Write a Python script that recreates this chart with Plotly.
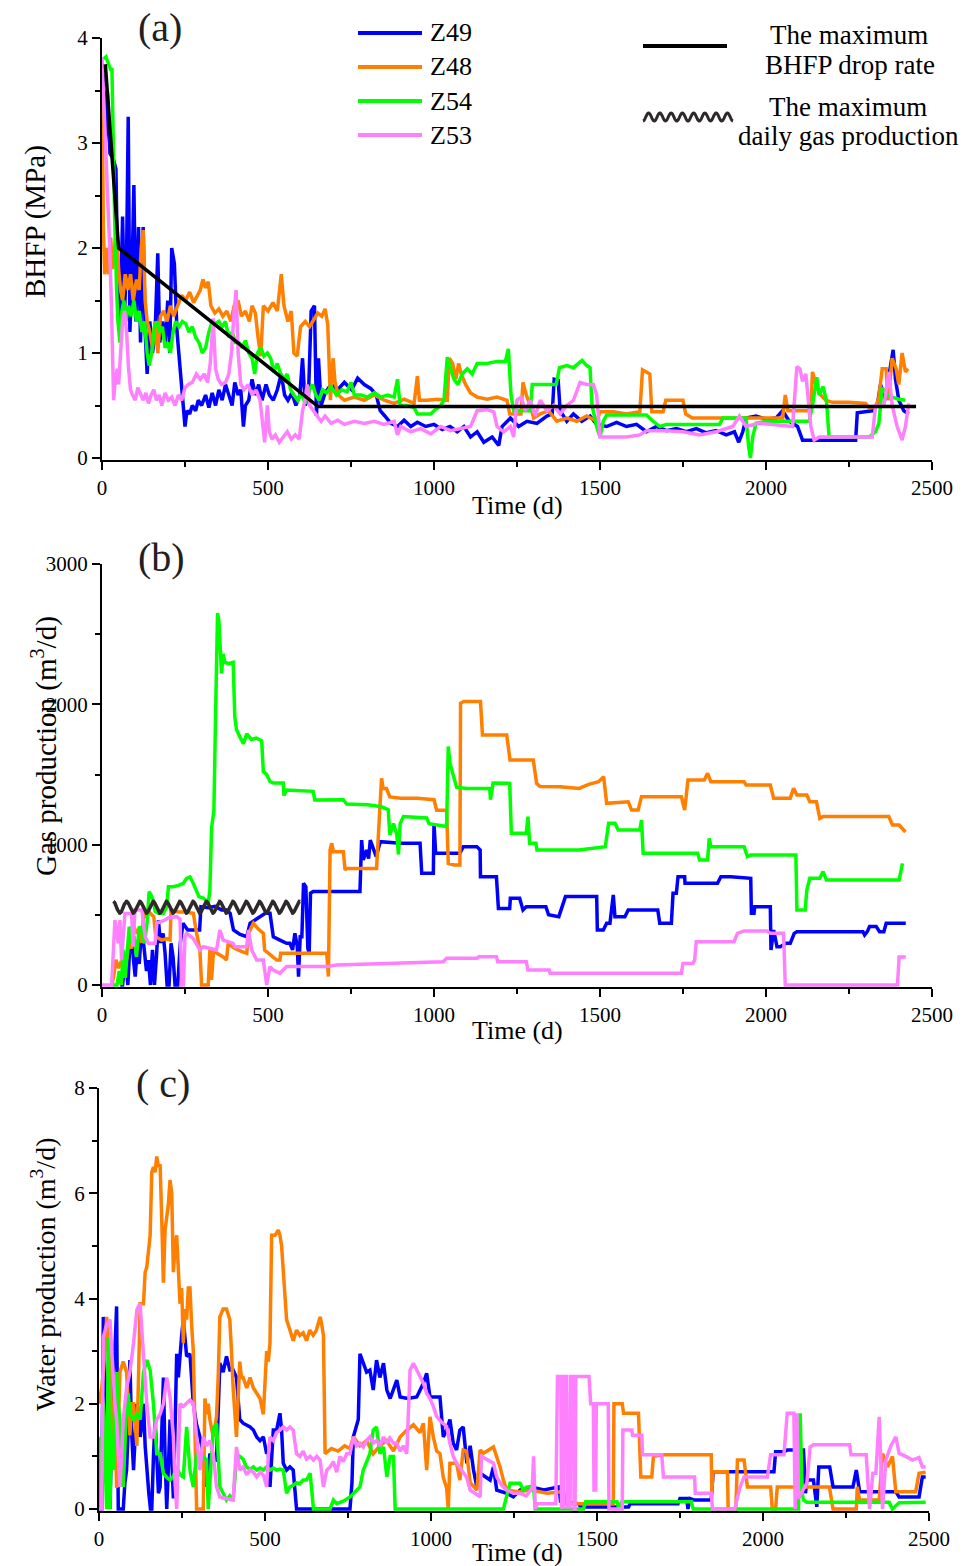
import numpy as np
import plotly.graph_objects as go

W, H = 975, 1566
FONT = "Liberation Serif"

WELLS = ["Z49", "Z48", "Z54", "Z53"]
COLORS = {"Z49": "#0000FF", "Z48": "#FF7F00", "Z54": "#00FF00", "Z53": "#FF80FF"}

# ---------------- (a) bottom-hole flowing pressure, MPa (day, value) ----------------
Z49_BHFP = [
    (3, 3.65), (10, 3.0), (16, 3.5), (24, 2.9), (34, 2.85), (42, 2.75), (48, 1.6), (55, 1.3), (62, 2.3),
    (68, 1.4), (74, 1.9), (79, 3.25), (84, 1.2), (90, 1.7), (96, 2.6), (102, 1.3), (110, 2.2), (116, 1.1),
    (124, 2.2), (130, 1.2), (136, 0.8), (144, 1.3), (152, 1.0), (160, 1.2), (168, 1.95), (174, 1.1),
    (182, 1.3), (190, 1.1), (198, 1.5), (204, 1.0), (210, 2.0), (218, 1.85), (226, 1.2), (234, 0.9),
    (242, 0.6), (250, 0.3), (256, 0.45), (264, 0.42), (272, 0.5), (282, 0.45), (290, 0.55), (300, 0.5),
    (312, 0.6), (322, 0.48), (332, 0.62), (342, 0.5), (352, 0.65), (362, 0.55), (372, 0.7), (382, 0.6),
    (392, 0.5), (400, 0.72), (410, 0.6), (418, 0.65), (426, 0.3), (432, 0.5), (442, 0.55), (452, 0.75),
    (462, 0.6), (472, 0.7), (482, 0.55), (494, 0.7), (504, 0.6), (516, 0.55), (528, 0.65), (540, 0.8),
    (550, 0.6), (560, 0.55), (572, 0.62), (584, 0.5), (596, 0.6), (604, 0.95), (612, 0.5), (622, 0.6),
    (630, 1.4), (640, 1.45), (646, 0.4), (652, 0.95), (660, 0.5), (672, 0.62), (690, 0.7), (710, 0.65),
    (730, 0.72), (752, 0.65), (770, 0.76), (790, 0.7), (810, 0.66), (826, 0.6), (838, 0.45), (852, 0.4),
    (870, 0.33), (890, 0.3), (910, 0.36), (930, 0.3), (950, 0.34), (975, 0.3), (1000, 0.32), (1025, 0.27),
    (1048, 0.3), (1070, 0.25), (1090, 0.3), (1110, 0.2), (1130, 0.25), (1150, 0.15), (1175, 0.2),
    (1195, 0.12), (1205, 0.3), (1230, 0.38), (1255, 0.3), (1280, 0.35), (1310, 0.33), (1340, 0.4),
    (1356, 0.42), (1362, 0.75), (1374, 0.74), (1380, 0.45), (1400, 0.35), (1420, 0.42), (1445, 0.35),
    (1470, 0.4), (1490, 0.32), (1520, 0.3), (1550, 0.34), (1580, 0.3), (1610, 0.32), (1640, 0.25),
    (1670, 0.3), (1700, 0.26), (1730, 0.28), (1760, 0.25), (1790, 0.28), (1820, 0.24), (1850, 0.26),
    (1880, 0.22), (1905, 0.25), (1918, 0.15), (1930, 0.25), (1940, 0.38), (1970, 0.4), (2000, 0.37),
    (2030, 0.38), (2050, 0.45), (2070, 0.35), (2095, 0.3), (2110, 0.17), (2180, 0.17), (2270, 0.17),
    (2275, 0.43), (2320, 0.45), (2335, 0.5), (2345, 0.7), (2358, 0.55), (2372, 0.8), (2383, 1.03),
    (2390, 0.75), (2400, 0.55), (2415, 0.45), (2430, 0.42),
]
Z48_BHFP = [
    (0, 3.6), (4, 2.2), (8, 1.75), (14, 2.0), (20, 1.75), (26, 2.1), (32, 1.8), (38, 2.05), (44, 2.2),
    (50, 1.8), (56, 1.6), (62, 1.5), (70, 1.75), (78, 1.6), (86, 1.75), (94, 1.5), (104, 1.7), (112, 1.6),
    (118, 2.0), (124, 2.17), (130, 1.5), (136, 1.3), (144, 1.2), (152, 1.05), (160, 1.3), (168, 1.0),
    (176, 1.35), (186, 1.4), (196, 1.3), (206, 1.45), (216, 1.35), (228, 1.45), (240, 1.55), (252, 1.5),
    (264, 1.58), (276, 1.48), (288, 1.55), (296, 1.6), (304, 1.7), (312, 1.62), (320, 1.68), (328, 1.45),
    (340, 1.38), (352, 1.42), (364, 1.35), (376, 1.4), (388, 1.3), (398, 1.45), (410, 1.5), (420, 1.35),
    (432, 1.4), (444, 1.3), (452, 1.45), (462, 1.38), (470, 1.15), (478, 0.97), (486, 1.45), (500, 1.4),
    (515, 1.48), (528, 1.4), (540, 1.75), (548, 1.45), (560, 1.3), (570, 1.4), (578, 1.0), (588, 0.97),
    (598, 1.25), (612, 1.3), (625, 1.25), (638, 1.32), (650, 1.38), (662, 1.35), (672, 1.42), (680, 1.27),
    (688, 0.55), (696, 0.95), (702, 0.72), (712, 0.6), (730, 0.55), (760, 0.58), (790, 0.55), (820, 0.6),
    (850, 0.55), (880, 0.52), (910, 0.56), (940, 0.52), (950, 0.78), (956, 0.55), (980, 0.55),
    (1010, 0.56), (1040, 0.55), (1046, 0.95), (1056, 0.9), (1066, 0.75), (1074, 0.9), (1082, 0.8),
    (1095, 0.7), (1110, 0.62), (1130, 0.58), (1160, 0.56), (1190, 0.58), (1220, 0.55), (1228, 0.42),
    (1262, 0.42), (1268, 0.72), (1278, 0.6), (1290, 0.5), (1300, 0.38), (1320, 0.42), (1345, 0.45),
    (1370, 0.35), (1400, 0.38), (1430, 0.35), (1460, 0.4), (1490, 0.35), (1500, 0.44), (1540, 0.44),
    (1580, 0.42), (1620, 0.44), (1628, 0.84), (1650, 0.8), (1656, 0.44), (1690, 0.44), (1698, 0.55),
    (1750, 0.55), (1758, 0.42), (1778, 0.38), (1850, 0.38), (1950, 0.38), (2050, 0.38), (2058, 0.6),
    (2066, 0.45), (2100, 0.45), (2135, 0.45), (2140, 0.82), (2150, 0.7), (2165, 0.6), (2180, 0.55),
    (2200, 0.53), (2250, 0.53), (2300, 0.52), (2310, 0.48), (2330, 0.48), (2340, 0.58), (2350, 0.85),
    (2362, 0.85), (2368, 0.55), (2380, 0.95), (2392, 0.85), (2400, 0.7), (2410, 1.0), (2420, 0.82),
    (2428, 0.85),
]
Z54_BHFP = [
    (5, 3.8), (12, 3.82), (20, 3.75), (26, 3.7), (30, 3.7), (34, 2.8), (38, 2.3), (44, 1.6), (48, 1.3),
    (54, 1.1), (60, 1.4), (66, 1.5), (72, 1.3), (80, 1.45), (88, 1.35), (96, 1.5), (104, 1.3), (112, 1.4),
    (120, 1.2), (128, 1.3), (136, 1.0), (142, 0.88), (150, 1.0), (158, 1.25), (166, 1.3), (174, 1.2),
    (182, 1.25), (190, 1.05), (198, 1.1), (206, 1.0), (214, 1.2), (222, 1.3), (232, 1.25), (242, 1.3),
    (252, 1.28), (262, 1.2), (272, 1.25), (282, 1.15), (292, 1.1), (302, 1.0), (312, 1.05), (322, 1.2),
    (332, 1.3), (342, 1.28), (352, 1.3), (362, 1.25), (372, 1.3), (382, 1.15), (392, 1.2), (402, 1.1),
    (412, 1.1), (422, 1.05), (432, 1.12), (442, 1.0), (452, 0.95), (460, 0.8), (468, 1.0), (478, 1.05),
    (488, 0.97), (498, 1.0), (508, 0.95), (518, 0.82), (528, 0.9), (538, 0.8), (548, 0.75), (558, 0.8),
    (568, 0.65), (578, 0.6), (590, 0.55), (600, 0.62), (612, 0.52), (624, 0.65), (634, 0.7), (644, 0.6),
    (654, 0.55), (664, 0.65), (676, 0.62), (690, 0.68), (706, 0.6), (722, 0.65), (738, 0.63), (750, 0.72),
    (760, 0.6), (780, 0.6), (800, 0.58), (820, 0.62), (840, 0.58), (860, 0.6), (880, 0.58), (890, 0.75),
    (898, 0.5), (920, 0.5), (940, 0.48), (950, 0.42), (970, 0.42), (990, 0.42), (1000, 0.45), (1020, 0.5),
    (1030, 0.55), (1040, 0.96), (1050, 0.85), (1060, 0.75), (1072, 0.7), (1085, 0.8), (1100, 0.85),
    (1115, 0.8), (1130, 0.9), (1160, 0.9), (1190, 0.92), (1215, 0.92), (1224, 1.04), (1232, 0.6),
    (1240, 0.45), (1270, 0.45), (1290, 0.45), (1296, 0.7), (1330, 0.7), (1368, 0.7), (1378, 0.86),
    (1400, 0.88), (1420, 0.86), (1446, 0.93), (1460, 0.88), (1470, 0.86), (1476, 0.5), (1490, 0.3),
    (1500, 0.2), (1510, 0.35), (1520, 0.41), (1580, 0.41), (1640, 0.41), (1660, 0.35), (1680, 0.3),
    (1700, 0.32), (1760, 0.32), (1860, 0.32), (1870, 0.38), (1940, 0.38), (1948, 0.1), (1953, 0.0),
    (1960, 0.2), (1970, 0.33), (2000, 0.35), (2060, 0.35), (2130, 0.35), (2140, 0.5), (2153, 0.77),
    (2160, 0.6), (2172, 0.68), (2182, 0.55), (2190, 0.2), (2250, 0.2), (2310, 0.2), (2330, 0.25),
    (2340, 0.33), (2350, 0.67), (2365, 0.6), (2380, 0.58), (2400, 0.56), (2420, 0.55),
]
Z53_BHFP = [
    (0, 3.82), (6, 3.4), (10, 3.1), (16, 2.6), (22, 2.1), (28, 1.5), (32, 0.9), (35, 0.55), (40, 0.75),
    (46, 0.85), (50, 0.7), (55, 1.0), (62, 1.3), (68, 1.4), (74, 1.2), (80, 0.85), (86, 0.65), (92, 0.6),
    (100, 0.55), (108, 0.67), (116, 0.6), (124, 0.55), (132, 0.62), (140, 0.52), (148, 0.6), (156, 0.65),
    (164, 0.55), (172, 0.6), (180, 0.5), (190, 0.62), (200, 0.55), (210, 0.58), (220, 0.5), (230, 0.6),
    (240, 0.55), (250, 0.67), (260, 0.7), (272, 0.72), (284, 0.8), (296, 0.75), (308, 0.8), (318, 0.72),
    (326, 0.9), (335, 1.33), (342, 0.85), (350, 0.75), (360, 0.7), (372, 0.72), (382, 0.8), (390, 1.0),
    (398, 1.4), (404, 1.6), (410, 1.0), (418, 0.7), (428, 0.65), (440, 0.7), (452, 0.6), (464, 0.65),
    (476, 0.55), (484, 0.3), (490, 0.15), (498, 0.5), (504, 0.25), (512, 0.18), (522, 0.22), (534, 0.15),
    (546, 0.2), (558, 0.25), (570, 0.18), (582, 0.22), (594, 0.18), (604, 0.45), (612, 0.56), (618, 0.7),
    (626, 0.5), (636, 0.45), (648, 0.4), (660, 0.35), (672, 0.4), (690, 0.33), (710, 0.36), (730, 0.32),
    (760, 0.35), (790, 0.33), (820, 0.35), (850, 0.32), (880, 0.35), (890, 0.22), (900, 0.3), (930, 0.25),
    (960, 0.28), (990, 0.23), (1020, 0.3), (1050, 0.26), (1080, 0.28), (1110, 0.3), (1130, 0.45),
    (1160, 0.46), (1180, 0.44), (1190, 0.3), (1210, 0.25), (1230, 0.3), (1240, 0.2), (1250, 0.55),
    (1262, 0.58), (1275, 0.45), (1290, 0.55), (1305, 0.4), (1320, 0.55), (1340, 0.45), (1360, 0.5),
    (1380, 0.42), (1400, 0.5), (1420, 0.55), (1440, 0.72), (1460, 0.7), (1480, 0.7), (1490, 0.6),
    (1500, 0.2), (1520, 0.2), (1580, 0.2), (1620, 0.22), (1640, 0.26), (1700, 0.26), (1750, 0.25),
    (1800, 0.22), (1850, 0.25), (1900, 0.3), (1920, 0.4), (1940, 0.3), (1980, 0.33), (2020, 0.32),
    (2080, 0.3), (2093, 0.87), (2102, 0.85), (2110, 0.73), (2120, 0.8), (2135, 0.3), (2145, 0.17),
    (2160, 0.2), (2240, 0.2), (2320, 0.2), (2330, 0.5), (2355, 0.5), (2370, 0.82), (2380, 0.5),
    (2395, 0.3), (2410, 0.17), (2420, 0.3), (2430, 0.52),
]
# maximum BHFP drop-rate envelope (day, MPa)
BHFP_DROP_LIMIT = [(10, 3.75), (50, 2.0), (651, 0.49), (2452, 0.49)]

# ---------------- (b) gas production, m3/d (day, value) ----------------
Z49_GAS = [
    (55, 0), (62, 0), (70, 200), (78, 0), (84, 300), (88, 415), (94, 200), (100, 60), (106, 250),
    (112, 150), (120, 415), (126, 300), (134, 100), (140, 178), (146, 0), (152, 250), (158, 0), (164, 200),
    (170, 460), (176, 300), (184, 368), (190, 225), (196, 0), (202, 0), (208, 297), (214, 200), (220, 0),
    (228, 0), (236, 300), (244, 440), (252, 415), (258, 392), (294, 392), (298, 558), (320, 550),
    (340, 560), (360, 535), (376, 535), (386, 511), (396, 392), (416, 360), (436, 344), (446, 440),
    (466, 470), (480, 487), (492, 511), (506, 511), (516, 344), (536, 320), (556, 297), (566, 297),
    (574, 250), (581, 368), (588, 280), (592, 60), (597, 344), (602, 344), (607, 725), (614, 700),
    (620, 260), (624, 226), (628, 654), (636, 666), (777, 666), (782, 1033), (787, 891), (797, 962),
    (803, 900), (808, 1033), (818, 960), (826, 915), (838, 1021), (900, 1010), (958, 1010), (963, 796),
    (998, 796), (1000, 1152), (1005, 938), (1078, 938), (1088, 986), (1129, 986), (1139, 962),
    (1140, 772), (1188, 772), (1194, 546), (1228, 546), (1230, 618), (1258, 618), (1268, 535),
    (1278, 558), (1337, 558), (1345, 500), (1376, 487), (1396, 630), (1490, 630), (1492, 392),
    (1510, 392), (1520, 440), (1530, 440), (1540, 642), (1545, 487), (1575, 487), (1585, 535),
    (1674, 535), (1680, 440), (1715, 440), (1720, 653), (1730, 653), (1735, 772), (1755, 772),
    (1756, 725), (1854, 725), (1864, 772), (1894, 772), (1954, 760), (1956, 511), (1964, 511),
    (1966, 558), (2013, 558), (2015, 249), (2023, 392), (2033, 273), (2043, 273), (2060, 297),
    (2073, 297), (2085, 368), (2093, 380), (2292, 380), (2297, 356), (2305, 380), (2312, 416),
    (2332, 416), (2342, 380), (2355, 380), (2362, 440), (2421, 440),
]
Z48_GAS = [
    (30, 0), (35, 60), (42, 180), (50, 120), (58, 170), (66, 140), (74, 180), (80, 297), (88, 260),
    (96, 415), (104, 368), (112, 400), (120, 300), (126, 535), (134, 480), (142, 520), (150, 500),
    (156, 487), (162, 344), (180, 320), (196, 330), (205, 320), (208, 535), (230, 520), (250, 520),
    (275, 511), (285, 368), (295, 249), (300, 0), (320, 0), (325, 249), (330, 36), (336, 249), (350, 220),
    (365, 200), (375, 178), (380, 297), (400, 260), (420, 240), (436, 226), (441, 368), (456, 440),
    (470, 400), (486, 368), (490, 249), (505, 220), (516, 202), (526, 178), (536, 178), (538, 226),
    (677, 226), (682, 60), (687, 962), (692, 1010), (697, 950), (727, 950), (732, 820), (737, 830),
    (827, 830), (842, 1473), (847, 1400), (857, 1400), (867, 1340), (900, 1330), (950, 1330),
    (1000, 1320), (1008, 1245), (1038, 1245), (1043, 867), (1060, 855), (1078, 855), (1080, 2008),
    (1090, 2020), (1140, 2020), (1146, 1782), (1219, 1782), (1229, 1604), (1299, 1604), (1309, 1437),
    (1319, 1414), (1380, 1413), (1437, 1401), (1466, 1430), (1496, 1449), (1511, 1485), (1520, 1295),
    (1585, 1306), (1595, 1247), (1615, 1247), (1625, 1342), (1745, 1342), (1755, 1247), (1765, 1461),
    (1814, 1461), (1824, 1508), (1834, 1449), (1934, 1449), (1940, 1425), (2013, 1425), (2023, 1330),
    (2073, 1330), (2083, 1401), (2093, 1354), (2123, 1354), (2132, 1306), (2152, 1306), (2162, 1188),
    (2172, 1200), (2370, 1200), (2381, 1140), (2401, 1140), (2410, 1120), (2420, 1090),
]
Z54_GAS = [
    (33, 0), (45, 0), (52, 100), (58, 0), (64, 250), (70, 50), (76, 230), (82, 415), (88, 297), (96, 350),
    (104, 200), (112, 415), (120, 400), (128, 297), (136, 450), (142, 665), (148, 640), (155, 600),
    (160, 525), (170, 511), (185, 511), (195, 560), (200, 700), (215, 700), (230, 710), (245, 725),
    (255, 760), (265, 770), (272, 740), (280, 700), (292, 630), (305, 620), (315, 600), (320, 580),
    (325, 680), (330, 1120), (337, 1240), (342, 1910), (348, 2650), (352, 2600), (355, 2480), (360, 2220),
    (365, 2360), (370, 2300), (380, 2290), (395, 2300), (400, 1910), (405, 1820), (415, 1770), (426, 1720),
    (436, 1790), (450, 1750), (465, 1760), (481, 1740), (486, 1520), (496, 1500), (506, 1450),
    (516, 1440), (546, 1440), (548, 1350), (556, 1390), (636, 1380), (641, 1319), (727, 1320),
    (737, 1290), (800, 1285), (842, 1270), (862, 1250), (867, 1070), (878, 1150), (888, 1070),
    (893, 930), (898, 1150), (908, 1200), (978, 1190), (985, 1150), (1038, 1130), (1043, 1700),
    (1048, 1580), (1058, 1490), (1068, 1410), (1098, 1400), (1168, 1400), (1170, 1320), (1178, 1440),
    (1228, 1437), (1233, 1081), (1278, 1081), (1283, 1200), (1288, 1010), (1307, 1010), (1310, 962),
    (1437, 962), (1516, 986), (1526, 1152), (1545, 1152), (1555, 1105), (1620, 1105), (1625, 1176),
    (1630, 938), (1794, 938), (1800, 891), (1824, 891), (1829, 1045), (1834, 986), (1934, 986),
    (1944, 915), (1954, 927), (2090, 927), (2093, 535), (2118, 535), (2123, 677), (2132, 760),
    (2162, 760), (2172, 808), (2182, 748), (2401, 748), (2411, 867),
]
Z53_GAS = [
    (0, 0), (29, 0), (39, 463), (49, 297), (54, 463), (59, 178), (69, 510), (89, 510), (94, 273),
    (99, 534), (120, 534), (130, 344), (140, 297), (160, 297), (165, 440), (190, 463), (200, 480),
    (225, 487), (235, 470), (240, 0), (245, 0), (250, 344), (255, 368), (275, 330), (295, 249),
    (305, 273), (345, 249), (355, 392), (365, 320), (395, 297), (400, 273), (436, 273), (441, 392),
    (451, 249), (466, 178), (486, 178), (496, 0), (506, 131), (516, 107), (536, 83), (556, 131),
    (677, 131), (707, 143), (878, 154), (1028, 166), (1038, 190), (1129, 190), (1135, 202), (1188, 202),
    (1192, 166), (1278, 166), (1283, 107), (1347, 107), (1350, 83), (1745, 83), (1750, 154), (1780, 154),
    (1785, 178), (1790, 309), (1904, 309), (1914, 368), (1934, 385), (2003, 385), (2013, 368),
    (2053, 368), (2058, 0), (2396, 0), (2401, 200), (2421, 200),
]
# maximum daily gas production reference (m3/d) and the days it spans
MAX_DAILY_GAS = 554
MAX_GAS_SPAN = (34, 596)

# ---------------- (c) water production, m3/d (day, value) ----------------
Z49_WATER = [
    (0, 0), (8, 0), (13, 3.65), (18, 2.5), (23, 2.0), (28, 1.0), (33, 0), (38, 1.5), (43, 2.6), (48, 3.0),
    (53, 3.85), (58, 0), (73, 0), (78, 0.5), (83, 0.74), (88, 1.5), (93, 2.83), (98, 1.5), (104, 0.74),
    (109, 1.4), (114, 2.0), (119, 1.8), (124, 1.37), (129, 1.6), (134, 2.0), (139, 1.2), (144, 0.74),
    (150, 0.3), (155, 0), (159, 0), (164, 1.0), (169, 1.7), (174, 1.0), (179, 0.3), (184, 0.42), (189, 1.5),
    (194, 2.5), (199, 1.0), (204, 0), (209, 0.8), (214, 1.7), (219, 1.0), (224, 0.2), (229, 1.5),
    (234, 2.95), (239, 2.5), (244, 2.95), (249, 3.3), (254, 3.6), (259, 3.2), (264, 2.9), (274, 2.95),
    (284, 2.0), (294, 1.6), (304, 1.37), (314, 1.05), (324, 0.42), (334, 1.05), (344, 0.95), (354, 0.93),
    (359, 1.8), (364, 2.77), (374, 2.6), (384, 2.9), (394, 2.64), (404, 2.64), (414, 2.5), (419, 2.0),
    (424, 1.7), (434, 1.63), (445, 1.6), (455, 1.56), (465, 1.5), (475, 1.37), (485, 1.3), (495, 1.37),
    (505, 1.05), (510, 1.1), (515, 0.42), (520, 1.0), (525, 1.5), (535, 1.5), (545, 1.82), (550, 1.5),
    (555, 0.87), (565, 0.74), (575, 0.8), (585, 0.74), (590, 0.4), (595, 0), (756, 0), (762, 0.5),
    (766, 1.37), (781, 1.7), (786, 2.95), (796, 2.77), (806, 2.6), (816, 2.64), (826, 2.26), (836, 2.83),
    (846, 2.5), (857, 2.77), (867, 2.26), (877, 2.1), (887, 2.3), (897, 2.45), (907, 2.13), (930, 2.1),
    (957, 2.13), (967, 2.26), (977, 2.39), (987, 2.58), (997, 2.13), (1027, 2.13), (1037, 1.37),
    (1047, 1.5), (1057, 1.7), (1067, 1.25), (1077, 1.12), (1087, 1.5), (1097, 1.56), (1108, 0.87),
    (1118, 1.2), (1128, 0.74), (1138, 0.42), (1148, 0.68), (1178, 0.55), (1188, 0.8), (1198, 0.36),
    (1228, 0.3), (1248, 0.23), (1268, 0.36), (1300, 0.42), (1340, 0.36), (1386, 0.42), (1390, 0.15),
    (1446, 0.1), (1450, 0.04), (1595, 0.04), (1600, 0.1), (1744, 0.1), (1750, 0.2), (1770, 0.2),
    (1774, 0), (1780, 0.2), (1794, 0.17), (1844, 0.17), (1850, 0.71), (2033, 0.71), (2038, 1.09),
    (2063, 1.09), (2073, 1.12), (2122, 1.12), (2128, 0.3), (2132, 0.55), (2152, 0.55), (2162, 0.04),
    (2168, 0.8), (2201, 0.8), (2211, 0.42), (2271, 0.42), (2281, 0.74), (2291, 0.33), (2400, 0.33),
    (2410, 0.23), (2470, 0.23), (2480, 0.61), (2490, 0.61),
]
Z48_WATER = [
    (0, 2.0), (8, 2.3), (13, 2.6), (18, 3.0), (23, 3.65), (28, 3.0), (33, 2.8), (38, 1.5), (43, 0.74),
    (48, 2.0), (53, 0.4), (58, 1.5), (63, 2.6), (73, 2.8), (83, 2.6), (93, 1.4), (98, 2.0), (104, 2.0),
    (114, 1.2), (119, 2.5), (124, 3.9), (134, 3.9), (139, 4.5), (144, 4.6), (149, 5.0), (154, 5.2),
    (159, 6.4), (164, 6.5), (169, 6.4), (174, 6.7), (179, 6.5), (184, 6.55), (189, 5.5), (194, 4.3),
    (199, 5.3), (204, 5.5), (209, 5.8), (214, 6.25), (219, 6.0), (224, 4.5), (229, 5.0), (234, 5.2),
    (239, 4.5), (244, 3.9), (249, 4.2), (254, 3.15), (259, 3.8), (264, 3.6), (269, 4.2), (274, 4.2),
    (279, 3.5), (284, 3.0), (289, 1.5), (294, 0), (314, 0), (319, 2.1), (324, 1.8), (329, 2.0), (334, 1.7),
    (344, 1.37), (354, 1.75), (359, 2.5), (364, 3.65), (374, 3.8), (384, 3.8), (394, 3.6), (399, 3.0),
    (404, 2.3), (414, 1.37), (419, 2.0), (424, 2.8), (429, 2.5), (434, 2.5), (445, 2.3), (455, 2.5),
    (465, 2.3), (475, 2.2), (485, 2.1), (495, 1.8), (500, 2.5), (505, 3.0), (510, 2.8), (515, 3.15),
    (520, 5.2), (530, 5.2), (540, 5.3), (545, 5.2), (550, 5.0), (555, 4.5), (560, 4.0), (565, 3.6),
    (575, 3.4), (585, 3.2), (595, 3.4), (605, 3.3), (615, 3.35), (625, 3.2), (635, 3.4), (645, 3.3),
    (655, 3.4), (666, 3.65), (671, 3.5), (676, 3.3), (681, 1.05), (690, 1.1), (700, 1.15), (720, 1.1),
    (740, 1.2), (756, 1.15), (766, 1.37), (786, 1.2), (806, 1.3), (826, 1.05), (846, 1.2), (866, 1.3),
    (887, 1.1), (907, 1.37), (927, 1.5), (947, 1.6), (967, 1.45), (977, 1.63), (987, 0.74), (997, 1.75),
    (1007, 1.37), (1017, 1.1), (1027, 1.05), (1037, 0.6), (1047, 0.4), (1052, 0), (1057, 0.87),
    (1077, 0.87), (1087, 0.55), (1097, 1.12), (1107, 1.1), (1118, 0.5), (1138, 0.36), (1148, 1.12),
    (1158, 1.06), (1188, 1.18), (1198, 1.0), (1208, 0.8), (1218, 0.55), (1228, 0.36), (1260, 0.33),
    (1300, 0.36), (1350, 0.3), (1399, 0.33), (1407, 0.1), (1549, 0.1), (1551, 2.0), (1576, 2.0),
    (1580, 1.82), (1625, 1.82), (1632, 0.61), (1665, 0.61), (1670, 1.0), (1700, 1.03), (1844, 1.03),
    (1846, 0.3), (1849, 0.71), (1893, 0.71), (1895, 0), (1918, 0), (1923, 0.93), (1943, 0.93),
    (1953, 0.42), (2023, 0.42), (2028, 0), (2038, 0), (2043, 0.42), (2200, 0.42), (2211, 0), (2281, 0),
    (2284, 0.42), (2291, 0.17), (2350, 0.17), (2360, 1.05), (2375, 0.8), (2390, 1.0), (2400, 0.33),
    (2460, 0.33), (2470, 0.68), (2490, 0.7),
]
Z54_WATER = [
    (0, 0), (5, 1.37), (8, 0.5), (13, 2.0), (18, 1.0), (23, 0), (28, 3.27), (33, 0), (38, 1.37), (43, 0.74),
    (48, 2.3), (53, 2.6), (58, 2.0), (63, 1.7), (68, 1.0), (73, 0.42), (78, 1.2), (83, 2.0), (88, 2.2),
    (93, 1.8), (104, 1.7), (114, 1.8), (124, 1.7), (134, 2.6), (144, 2.83), (154, 2.64), (164, 2.0),
    (174, 1.05), (184, 1.05), (194, 0.68), (204, 0.6), (214, 0.55), (224, 0.62), (234, 0.8), (244, 0.65),
    (254, 0.61), (264, 1.56), (274, 0.74), (284, 0.42), (294, 1.05), (304, 0.95), (314, 1.0), (324, 0.93),
    (329, 0), (334, 0.5), (344, 1.5), (354, 1.63), (359, 1.0), (364, 0.42), (374, 0.3), (384, 0.17),
    (394, 0.25), (404, 0.17), (414, 0.93), (424, 1.0), (434, 0.95), (444, 0.8), (455, 0.75), (465, 0.8),
    (475, 0.74), (485, 0.78), (495, 0.74), (505, 0.8), (515, 0.74), (525, 0.78), (535, 0.74), (545, 0.76),
    (555, 0.74), (565, 0.3), (575, 0.42), (585, 0.45), (595, 0.5), (605, 0.48), (615, 0.55), (625, 0.55),
    (636, 0.68), (646, 0), (696, 0), (706, 0.17), (716, 0.1), (736, 0.15), (756, 0.23), (766, 0.3),
    (786, 0.42), (796, 0.74), (806, 0.9), (816, 1.05), (826, 1.5), (836, 1.56), (846, 1.05), (857, 1.18),
    (867, 0.61), (877, 1.0), (887, 1.0), (892, 0), (1218, 0), (1228, 0.23), (1238, 0.49), (1268, 0.49),
    (1278, 0.36), (1288, 0.42), (1309, 0.42), (1314, 0), (1459, 0), (1466, 0.14), (1560, 0.14),
    (1565, 0.03), (1575, 0.14), (1784, 0.14), (1790, 0), (2107, 0), (2112, 1.82), (2118, 0.3),
    (2122, 0.17), (2132, 0.13), (2380, 0.13), (2390, 0), (2400, 0.05), (2410, 0.12), (2490, 0.13),
]
Z53_WATER = [
    (0, 0), (8, 0), (13, 3.27), (23, 3.5), (33, 3.6), (38, 3.0), (43, 2.64), (48, 2.0), (53, 1.7),
    (58, 1.0), (63, 0.42), (68, 1.0), (73, 1.7), (83, 2.3), (93, 2.6), (104, 3.15), (109, 3.5), (114, 3.78),
    (119, 3.85), (124, 3.9), (129, 3.4), (134, 2.95), (144, 2.0), (154, 1.37), (164, 1.37), (174, 1.7),
    (184, 1.8), (194, 2.0), (204, 2.5), (214, 2.13), (224, 1.37), (229, 0.5), (234, 0), (239, 1.0),
    (244, 2.0), (254, 1.95), (264, 2.0), (274, 2.07), (284, 2.0), (294, 1.37), (304, 0.74), (314, 1.37),
    (324, 1.2), (334, 1.3), (344, 1.05), (354, 0.42), (364, 0.23), (384, 0.2), (404, 0.17), (414, 1.18),
    (424, 0.74), (434, 0.8), (445, 0.65), (455, 0.74), (465, 0.7), (475, 0.61), (485, 0.7), (495, 0.65),
    (505, 0.42), (510, 1.0), (515, 1.37), (525, 1.3), (535, 1.45), (545, 1.5), (555, 1.56), (565, 1.5),
    (575, 1.56), (585, 1.5), (595, 1.05), (605, 1.0), (615, 1.1), (625, 0.95), (636, 1.0), (646, 0.93),
    (656, 1.0), (666, 0.93), (676, 0.42), (686, 0.74), (696, 0.8), (706, 0.9), (716, 0.7), (726, 1.0),
    (736, 0.9), (746, 1.05), (756, 1.05), (766, 1.37), (776, 1.2), (786, 1.25), (796, 1.18), (806, 1.3),
    (816, 1.37), (826, 1.25), (836, 1.3), (846, 1.2), (857, 1.37), (866, 1.25), (876, 1.35), (887, 1.25),
    (897, 1.25), (907, 1.1), (917, 1.2), (927, 1.05), (937, 2.64), (947, 2.77), (957, 2.64), (967, 2.5),
    (977, 2.39), (987, 2.2), (997, 2.1), (1007, 1.95), (1017, 1.76), (1032, 1.65), (1047, 1.57),
    (1057, 1.25), (1067, 1.0), (1077, 0.87), (1092, 0.75), (1107, 0.61), (1118, 0.36), (1133, 0.3),
    (1148, 0.23), (1152, 1.0), (1168, 0.95), (1188, 0.87), (1198, 0.61), (1213, 0.45), (1228, 0.36),
    (1248, 0.3), (1267, 0.3), (1287, 0.25), (1305, 0.4), (1309, 1.0), (1314, 0), (1320, 0.1), (1376, 0.1),
    (1381, 2.52), (1391, 2.52), (1393, 0.04), (1399, 0.04), (1401, 2.52), (1409, 2.52), (1411, 0.04),
    (1419, 0.04), (1421, 2.52), (1429, 2.52), (1431, 0), (1434, 0), (1436, 2.52), (1476, 2.52),
    (1481, 2.0), (1489, 2.0), (1491, 0.36), (1496, 0.36), (1498, 2.0), (1534, 2.0), (1536, 0), (1576, 0),
    (1578, 1.5), (1605, 1.5), (1607, 1.4), (1635, 1.4), (1637, 1.03), (1695, 1.03), (1700, 0.61),
    (1794, 0.61), (1796, 0.3), (1844, 0.3), (1848, 0), (1915, 0), (1930, 0.4), (1943, 0.61), (2013, 0.61),
    (2023, 1.03), (2063, 1.03), (2073, 1.82), (2093, 1.82), (2097, 0), (2102, 1.82), (2107, 0.2),
    (2132, 0.49), (2142, 1.18), (2152, 1.22), (2261, 1.22), (2265, 1.03), (2311, 1.03), (2321, 0),
    (2331, 0.68), (2340, 0.68), (2350, 1.75), (2360, 0), (2370, 0.93), (2385, 1.2), (2400, 1.37),
    (2410, 1.06), (2430, 1.0), (2450, 0.93), (2470, 0.98), (2480, 0.8), (2490, 0.8),
]

BHFP = {"Z49": Z49_BHFP, "Z48": Z48_BHFP, "Z54": Z54_BHFP, "Z53": Z53_BHFP}
GAS = {"Z49": Z49_GAS, "Z48": Z48_GAS, "Z54": Z54_GAS, "Z53": Z53_GAS}
WATER = {"Z49": Z49_WATER, "Z48": Z48_WATER, "Z54": Z54_WATER, "Z53": Z53_WATER}

# ---------------- layout geometry (pixels in the 975 x 1566 page) ----------------
# each panel: x pixel of day 0 and day 2500, y pixel of value 0 and of the top tick
PANELS = {
    "a": dict(x0=102, x1=932, y0=458, ytop=38, ymax=4, pad=0.02, dtick=1, minor=0.5),
    "b": dict(x0=102, x1=932, y0=985, ytop=564, ymax=3000, pad=15, dtick=1000, minor=500),
    "c": dict(x0=99, x1=929, y0=1509, ytop=1088, ymax=8, pad=0.04, dtick=2, minor=1),
}


def pxx(x):
    return x / W


def pxy(y):
    return 1 - y / H


def split(pairs):
    return [p[0] for p in pairs], [p[1] for p in pairs]


fig = go.Figure()

axis_common = dict(
    showline=True, linecolor="black", linewidth=2, mirror=False, automargin=False,
    ticks="outside", ticklen=8, tickwidth=2, tickcolor="black",
    showgrid=False, zeroline=False,
    tickfont=dict(family=FONT, size=21, color="black"),
)

layout_axes = {}
for i, key in enumerate(["a", "b", "c"]):
    p = PANELS[key]
    scale = (p["y0"] - p["ytop"]) / p["ymax"]
    bottom_px = p["y0"] + p["pad"] * scale
    sfx = "" if i == 0 else str(i + 1)
    layout_axes["xaxis" + sfx] = dict(
        axis_common, domain=[pxx(p["x0"]), pxx(p["x1"])], range=[0, 2500],
        tickvals=[0, 500, 1000, 1500, 2000, 2500], anchor="y" + sfx,
        minor=dict(ticks="outside", ticklen=5, tickwidth=1.5, tickcolor="black", dtick=250, tick0=0),
    )
    layout_axes["yaxis" + sfx] = dict(
        axis_common, domain=[pxy(bottom_px), pxy(p["ytop"])], range=[-p["pad"], p["ymax"]],
        tick0=0, dtick=p["dtick"], anchor="x" + sfx,
        minor=dict(ticks="outside", ticklen=5, tickwidth=1.5, tickcolor="black", dtick=p["minor"], tick0=0),
    )

# well curves
for i, data in enumerate([BHFP, GAS, WATER]):
    sfx = "" if i == 0 else str(i + 1)
    for well in WELLS:
        x, y = split(data[well])
        fig.add_trace(go.Scatter(
            x=x, y=y, mode="lines", name=well, showlegend=False,
            line=dict(color=COLORS[well], width=3.5), xaxis="x" + sfx, yaxis="y" + sfx,
            hoverinfo="skip",
        ))

# maximum BHFP drop rate envelope
x, y = split(BHFP_DROP_LIMIT)
fig.add_trace(go.Scatter(x=x, y=y, mode="lines", showlegend=False,
                         line=dict(color="black", width=3.5), xaxis="x", yaxis="y", hoverinfo="skip"))

# maximum daily gas production, drawn in a wavy line style
WAVE_PERIOD_DAYS = 40.0
WAVE_HALF_HEIGHT = 42.0
wd = np.linspace(MAX_GAS_SPAN[0], MAX_GAS_SPAN[1], 900)
wv = MAX_DAILY_GAS + WAVE_HALF_HEIGHT * np.cos(2 * np.pi * (wd - wd[0]) / WAVE_PERIOD_DAYS)
fig.add_trace(go.Scatter(x=wd, y=wv, mode="lines", showlegend=False,
                         line=dict(color="#2e2a2a", width=3.5), xaxis="x2", yaxis="y2", hoverinfo="skip"))

annotations = []
shapes = []


def text(s, x, y, size, **kw):
    annotations.append(dict(
        text=s, x=pxx(x), y=pxy(y), xref="paper", yref="paper", showarrow=False,
        font=dict(family=FONT, size=size, color=kw.pop("color", "black")),
        xanchor=kw.pop("xanchor", "center"), yanchor="middle", **kw,
    ))


# panel tags
text("(a)", 160, 27, 40, color="#231f20")
text("(b)", 161, 557, 40, color="#231f20")
text("( c)", 163, 1083, 40, color="#231f20")

# axis titles
text("Time (d)", 517, 505, 26)
text("Time (d)", 517, 1030, 26)
text("Time (d)", 517, 1552, 26)
text("BHFP (MPa)", 36, 222, 29, textangle=-90)
text("Gas production (m<sup>3</sup>/d)", 45, 746, 29, textangle=-90)
text("Water production (m<sup>3</sup>/d)", 43, 1275, 28, textangle=-90)

# well legend
for j, well in enumerate(WELLS):
    yy = 33 + 34 * j
    shapes.append(dict(type="line", xref="paper", yref="paper",
                       x0=pxx(358), x1=pxx(422), y0=pxy(yy), y1=pxy(yy),
                       line=dict(color=COLORS[well], width=4)))
    text(well, 428, yy, 26, xanchor="left")

# reference-line legend
shapes.append(dict(type="line", xref="paper", yref="paper",
                   x0=pxx(643), x1=pxx(727), y0=pxy(46), y1=pxy(46),
                   line=dict(color="black", width=4)))
text("The maximum", 849, 35, 27)
text("BHFP drop rate", 850, 65, 27)

gx = np.linspace(643, 733, 200)
gy = 117 + 4 * np.cos(2 * np.pi * (gx - 643) / 11.25)
path = "M " + " L ".join(f"{pxx(a):.5f},{pxy(b):.5f}" for a, b in zip(gx, gy))
shapes.append(dict(type="path", xref="paper", yref="paper", path=path,
                   line=dict(color="#2e2a2a", width=3)))
text("The maximum", 848, 107, 27)
text("daily gas production", 848, 136, 27)

fig.update_layout(
    template="none",
    width=W, height=H, margin=dict(l=0, r=0, t=0, b=0, autoexpand=False),
    paper_bgcolor="white", plot_bgcolor="white",
    showlegend=False, annotations=annotations, shapes=shapes,
    font=dict(family=FONT, color="black"),
    **layout_axes,
)

fig.write_html("out.html")
